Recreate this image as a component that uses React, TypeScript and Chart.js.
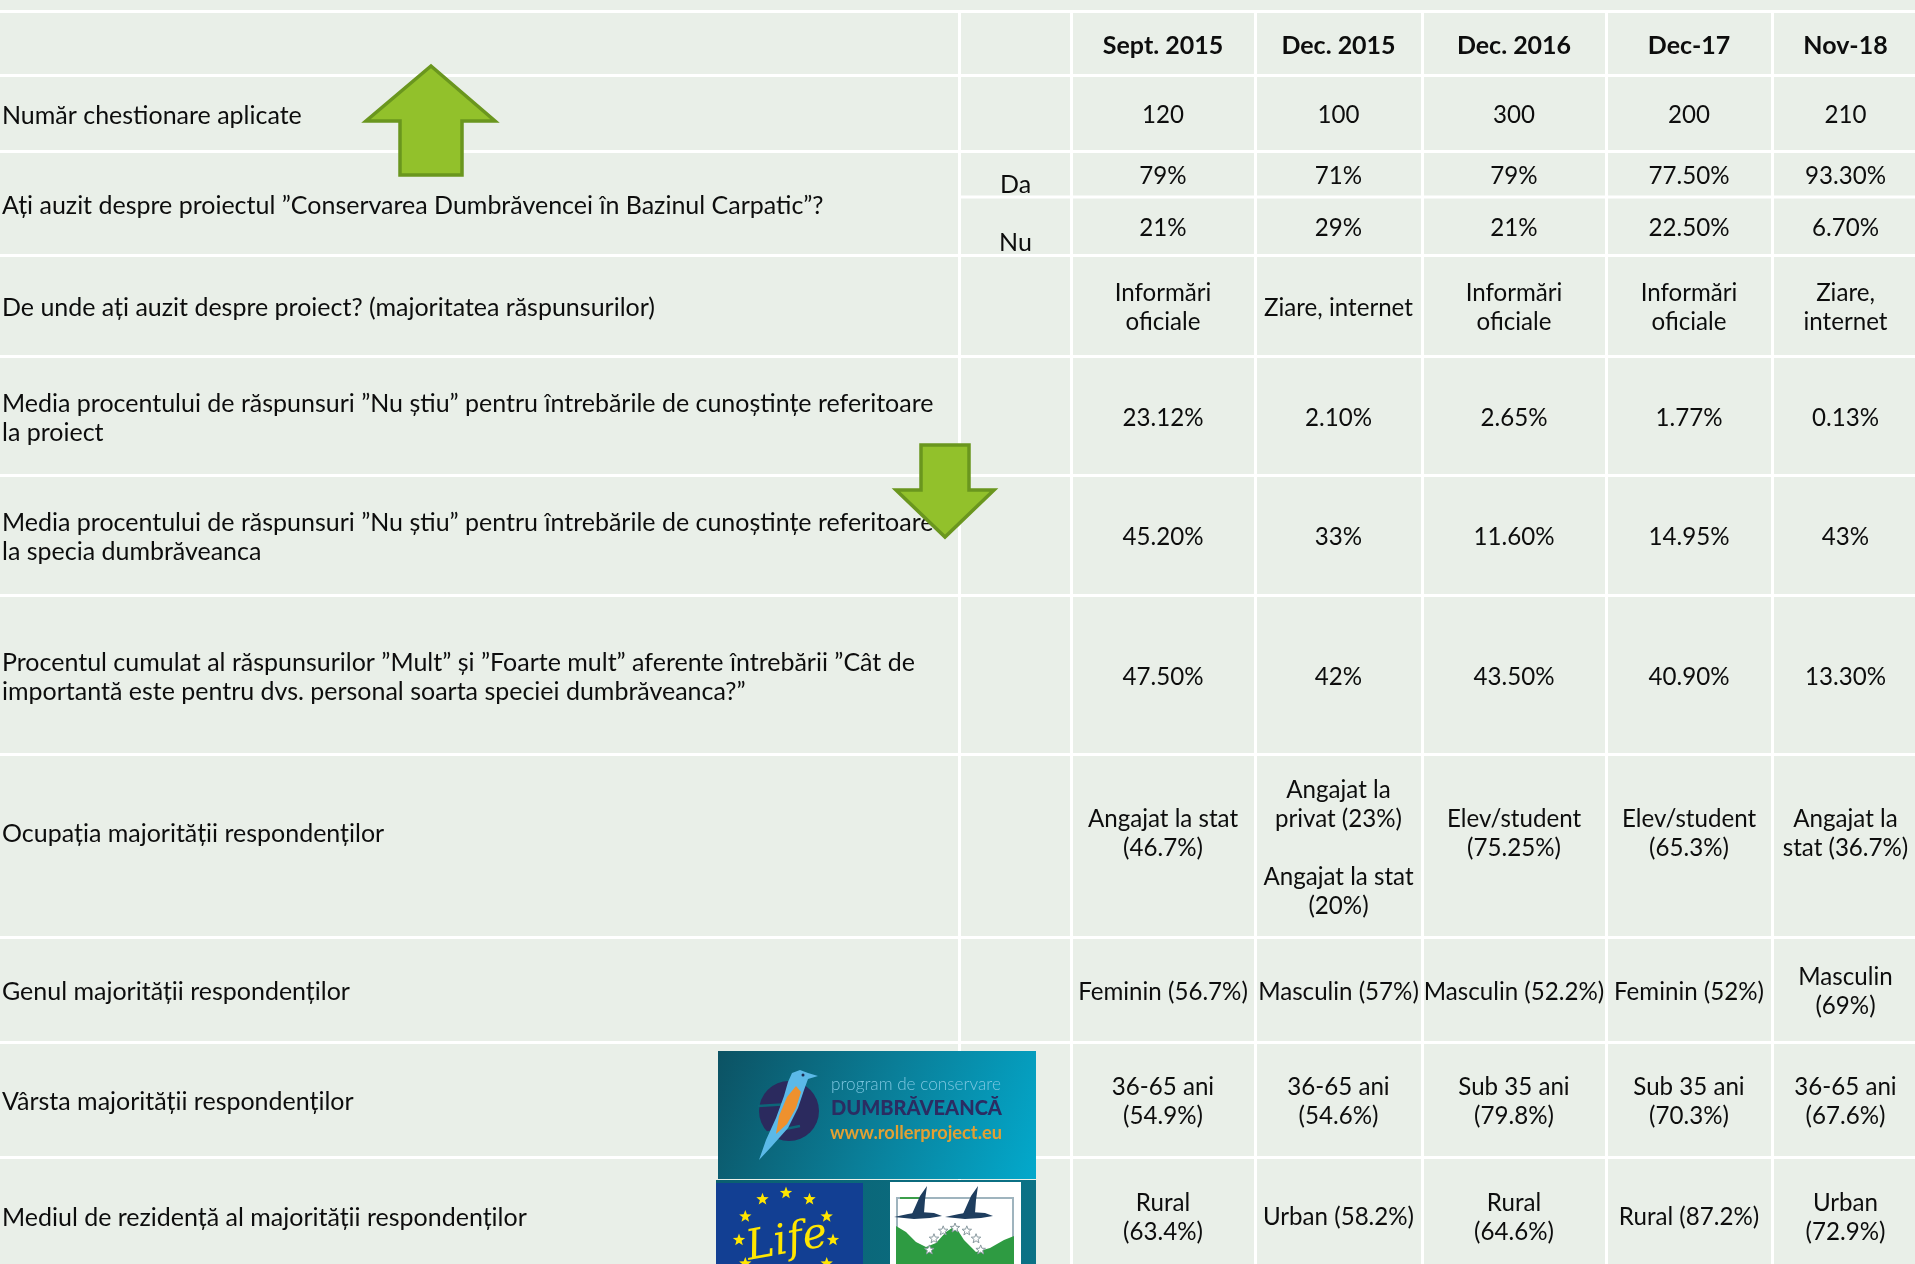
import React, { useEffect, useRef } from 'react';
import { Chart, registerables } from 'chart.js';

Chart.register(...registerables);

const W = 1915;
const H = 1264;

// ---------------- DATA ----------------
const periods = ['Sept. 2015', 'Dec. 2015', 'Dec. 2016', 'Dec-17', 'Nov-18'];

const rowLabels: string[][] = [
  ['Număr chestionare aplicate'],
  ['Ați auzit despre proiectul ”Conservarea Dumbrăvencei în Bazinul Carpatic”?'],
  ['De unde ați auzit despre proiect? (majoritatea răspunsurilor)'],
  ['Media procentului de răspunsuri ”Nu știu” pentru întrebările de cunoștințe referitoare', 'la proiect'],
  ['Media procentului de răspunsuri ”Nu știu” pentru întrebările de cunoștințe referitoare', 'la specia dumbrăveanca'],
  ['Procentul cumulat al răspunsurilor ”Mult” și ”Foarte mult” aferente întrebării ”Cât de', 'importantă este pentru dvs. personal soarta speciei dumbrăveanca?”'],
  ['Ocupația majorității respondenților', ''],
  ['Genul majorității respondenților'],
  ['Vârsta majorității respondenților'],
  ['Mediul de rezidență al majorității respondenților'],
];

const answerLabels = ['Da', 'Nu'];

const questionnaires = ['120', '100', '300', '200', '210'];
const heardYes = ['79%', '71%', '79%', '77.50%', '93.30%'];
const heardNo = ['21%', '29%', '21%', '22.50%', '6.70%'];
const heardSource: string[][] = [
  ['Informări', 'oficiale'],
  ['Ziare, internet'],
  ['Informări', 'oficiale'],
  ['Informări', 'oficiale'],
  ['Ziare,', 'internet'],
];
const dontKnowProject = ['23.12%', '2.10%', '2.65%', '1.77%', '0.13%'];
const dontKnowSpecies = ['45.20%', '33%', '11.60%', '14.95%', '43%'];
const importance = ['47.50%', '42%', '43.50%', '40.90%', '13.30%'];
const occupation: string[][] = [
  ['Angajat la stat', '(46.7%)', ''],
  ['Angajat la', 'privat (23%)', '', 'Angajat la stat', '(20%)'],
  ['Elev/student', '(75.25%)', ''],
  ['Elev/student', '(65.3%)', ''],
  ['Angajat la', 'stat (36.7%)', ''],
];
const gender: string[][] = [
  ['Feminin (56.7%)'],
  ['Masculin (57%)'],
  ['Masculin (52.2%)'],
  ['Feminin (52%)'],
  ['Masculin', '(69%)'],
];
const ageGroup: string[][] = [
  ['36-65 ani', '(54.9%)'],
  ['36-65 ani', '(54.6%)'],
  ['Sub 35 ani', '(79.8%)'],
  ['Sub 35 ani', '(70.3%)'],
  ['36-65 ani', '(67.6%)'],
];
const residence: string[][] = [
  ['Rural', '(63.4%)'],
  ['Urban (58.2%)'],
  ['Rural', '(64.6%)'],
  ['Rural (87.2%)'],
  ['Urban', '(72.9%)'],
];

// ---------------- LAYOUT ----------------
const COL_EDGES = [0, 960, 1071, 1255, 1422, 1606, 1772, 1919];
const ROW_EDGES = [11, 75, 151, 255, 356, 475, 595, 754, 937, 1042, 1157, 1273];
const SPLIT_Y = 197;
const LINE_H = 29;
const TEXT_DY = 2.5;
const VALUE_SCALE = 0.965;
const BG = '#E9EFE8';
const TEXT = '#0d0d0d';
const FONT = 'Lato';

const colCenter = (c: number) => (COL_EDGES[c] + COL_EDGES[c + 1]) / 2;
const rowMid = (r: number) => (ROW_EDGES[r] + ROW_EDGES[r + 1]) / 2;

type Cell = { x: number; y: number; lines: string[]; align: CanvasTextAlign };

const toLines = (v: string | string[]) => (Array.isArray(v) ? v : [v]);

function valueCells(values: (string | string[])[], y: number): Cell[] {
  return values.map((v, i) => ({ x: colCenter(i + 2), y, lines: toLines(v), align: 'center' as CanvasTextAlign }));
}

function textDataset(label: string, data: Cell[], kind: 'header' | 'label' | 'value'): any {
  return { label, data, kind, pointRadius: 0, pointHoverRadius: 0, isText: true };
}

// ---------------- DRAW HELPERS ----------------
type Mapper = (v: number) => number;

function poly(ctx: CanvasRenderingContext2D, X: Mapper, Y: Mapper, pts: number[][], fill: string, stroke?: string, lw = 0) {
  ctx.beginPath();
  pts.forEach(([x, y], i) => (i ? ctx.lineTo(X(x), Y(y)) : ctx.moveTo(X(x), Y(y))));
  ctx.closePath();
  ctx.fillStyle = fill;
  ctx.fill();
  if (stroke) {
    ctx.lineWidth = lw;
    ctx.strokeStyle = stroke;
    ctx.lineJoin = 'miter';
    ctx.stroke();
  }
}

function star(ctx: CanvasRenderingContext2D, cx: number, cy: number, r: number, fill?: string, stroke?: string) {
  ctx.beginPath();
  for (let k = 0; k < 10; k++) {
    const a = -Math.PI / 2 + (k * Math.PI) / 5;
    const rr = k % 2 === 0 ? r : r * 0.42;
    const px = cx + rr * Math.cos(a);
    const py = cy + rr * Math.sin(a);
    k ? ctx.lineTo(px, py) : ctx.moveTo(px, py);
  }
  ctx.closePath();
  if (fill) {
    ctx.fillStyle = fill;
    ctx.fill();
  }
  if (stroke) {
    ctx.strokeStyle = stroke;
    ctx.lineWidth = 1;
    ctx.stroke();
  }
}

function fitText(ctx: CanvasRenderingContext2D, text: string, x: number, y: number, width: number, weight: string, color: string) {
  ctx.font = `${weight} 100px ${FONT}`;
  const w = ctx.measureText(text).width;
  const size = (100 * width) / w;
  ctx.font = `${weight} ${size}px ${FONT}`;
  ctx.fillStyle = color;
  ctx.textAlign = 'left';
  ctx.textBaseline = 'middle';
  ctx.fillText(text, x, y);
}

function drawArrows(ctx: CanvasRenderingContext2D, X: Mapper, Y: Mapper) {
  const fill = '#92C12B';
  const stroke = '#6A961E';
  poly(ctx, X, Y, [[431, 66], [495, 121], [462, 121], [462, 175], [400, 175], [400, 121], [366, 121]], fill, stroke, 3.5);
  poly(ctx, X, Y, [[921, 445], [969, 445], [969, 490], [994, 490], [945, 537], [896, 490], [921, 490]], fill, stroke, 3.5);
}

function drawLogos(ctx: CanvasRenderingContext2D, X: Mapper, Y: Mapper) {
  // upper logo panel
  const g = ctx.createLinearGradient(X(718), Y(1051), X(1036), Y(1179));
  g.addColorStop(0, '#0C5263');
  g.addColorStop(0.5, '#0A7E98');
  g.addColorStop(1, '#03A9CC');
  ctx.fillStyle = g;
  ctx.fillRect(X(718), Y(1051), X(1036) - X(718), Y(1179) - Y(1051));

  // navy blob
  ctx.fillStyle = '#2B2A5E';
  ctx.beginPath();
  ctx.arc(X(789), Y(1111), 30, 0, Math.PI * 2);
  ctx.fill();
  ctx.strokeStyle = '#0C6679';
  ctx.lineWidth = 2.5;
  ctx.beginPath();
  ctx.moveTo(X(758), Y(1106));
  ctx.lineTo(X(790), Y(1104));
  ctx.moveTo(X(765), Y(1133));
  ctx.lineTo(X(800), Y(1126));
  ctx.stroke();

  // bird
  poly(ctx, X, Y, [[792, 1073], [800, 1070], [808, 1073], [818, 1076], [808, 1079], [804, 1090], [798, 1108], [788, 1128], [772, 1146], [759, 1160], [766, 1140], [776, 1118], [784, 1096], [788, 1082]], '#5BB9E8');
  poly(ctx, X, Y, [[796, 1086], [801, 1092], [796, 1108], [787, 1124], [776, 1134], [779, 1116], [787, 1097]], '#EE912E');
  ctx.fillStyle = '#1E2A50';
  ctx.beginPath();
  ctx.arc(X(803), Y(1075), 1.5, 0, Math.PI * 2);
  ctx.fill();

  fitText(ctx, 'program de conservare', X(831), Y(1084), 170, '300', '#7CC6E0');
  fitText(ctx, 'DUMBRĂVEANCĂ', X(831), Y(1109), 171, '900', '#2B2C62');
  fitText(ctx, 'www.rollerproject.eu', X(830), Y(1133), 172, 'bold', '#E2A033');

  // lower band
  const g2 = ctx.createLinearGradient(X(716), 0, X(1036), 0);
  g2.addColorStop(0, '#0A5F70');
  g2.addColorStop(1, '#0B7286');
  ctx.fillStyle = g2;
  ctx.fillRect(X(716), Y(1180), X(1036) - X(716), Y(1264) - Y(1180));

  // LIFE logo
  ctx.fillStyle = '#123F93';
  ctx.fillRect(X(716), Y(1183), X(863) - X(716), Y(1264) - Y(1183));
  ctx.save();
  ctx.beginPath();
  ctx.rect(X(716), Y(1183), X(863) - X(716), Y(1264) - Y(1183));
  ctx.clip();
  for (let k = 0; k < 12; k++) {
    const a = -Math.PI / 2 + (k * Math.PI) / 6;
    star(ctx, X(786) + 47 * Math.cos(a), Y(1240) + 47 * Math.sin(a), 6.5, '#FFE600');
  }
  ctx.fillStyle = '#FFE600';
  ctx.translate(X(787), Y(1242));
  ctx.rotate(-0.18);
  ctx.font = 'italic 42px "DejaVu Serif"';
  ctx.textAlign = 'center';
  ctx.textBaseline = 'middle';
  ctx.fillText('Life', 0, 0);
  ctx.restore();

  // partner logo
  ctx.fillStyle = '#FFFFFF';
  ctx.fillRect(X(890), Y(1182), X(1021) - X(890), Y(1264) - Y(1182));
  ctx.save();
  ctx.beginPath();
  ctx.rect(X(890), Y(1182), X(1021) - X(890), Y(1264) - Y(1182));
  ctx.clip();
  ctx.strokeStyle = '#9FB4BE';
  ctx.lineWidth = 2;
  ctx.strokeRect(X(897), Y(1198), X(1013) - X(897), Y(1270) - Y(1198));
  ctx.strokeStyle = '#3C9E4B';
  ctx.beginPath();
  ctx.moveTo(X(900), Y(1198));
  ctx.lineTo(X(925), Y(1198));
  ctx.stroke();
  poly(ctx, X, Y, [[896, 1226], [906, 1232], [916, 1242], [926, 1247], [936, 1243], [946, 1232], [955, 1226], [964, 1240], [976, 1252], [990, 1248], [1004, 1240], [1014, 1236], [1014, 1264], [896, 1264]], '#2E9B42');
  // geese
  const goose = (ox: number) => {
    poly(ctx, X, Y, [[ox, 1217], [ox + 14, 1214], [ox + 26, 1212], [ox + 40, 1213], [ox + 48, 1216], [ox + 36, 1218], [ox + 20, 1219]], '#1E3D5E');
    poly(ctx, X, Y, [[ox + 18, 1214], [ox + 26, 1196], [ox + 33, 1186], [ox + 31, 1200], [ox + 30, 1213]], '#1E3D5E');
  };
  goose(894);
  goose(945);
  for (let k = 0; k < 7; k++) {
    const a = -Math.PI * 0.95 + (k * Math.PI * 0.9) / 6;
    star(ctx, X(955) + 26 * Math.cos(a), Y(1254) + 26 * Math.sin(a), 5, '#FFFFFF', '#8A9AA0');
  }
  ctx.restore();
}

// ---------------- COMPONENT ----------------
export default function App() {
  const ref = useRef<HTMLCanvasElement | null>(null);

  useEffect(() => {
    const canvas = ref.current;
    if (!canvas) return;

    const probe = document.createElement('canvas').getContext('2d')!;
    probe.font = `100px ${FONT}`;
    const refW = probe.measureText(rowLabels[3][0]).width;
    const fontSize = Math.max(16, Math.min(28, (100 * 932) / refW));

    const labelCells: Cell[] = rowLabels.map((lines, i) => ({ x: 2, y: rowMid(i + 1), lines, align: 'left' as CanvasTextAlign }));
    const answerCells: Cell[] = answerLabels.map((t, i) => ({
      x: colCenter(1),
      y: (i === 0 ? SPLIT_Y : ROW_EDGES[3]) - 14.5,
      lines: [t],
      align: 'center' as CanvasTextAlign,
    }));

    const datasets: any[] = [
      textDataset('Perioada', valueCells(periods, rowMid(0)), 'header'),
      textDataset('Întrebări', labelCells, 'label'),
      textDataset('Răspuns', answerCells, 'label'),
      textDataset('Număr chestionare', valueCells(questionnaires, rowMid(1)), 'value'),
      textDataset('Da', valueCells(heardYes, (ROW_EDGES[2] + SPLIT_Y) / 2), 'value'),
      textDataset('Nu', valueCells(heardNo, (SPLIT_Y + ROW_EDGES[3]) / 2), 'value'),
      textDataset('Sursa', valueCells(heardSource, rowMid(3)), 'value'),
      textDataset('Nu știu proiect', valueCells(dontKnowProject, rowMid(4)), 'value'),
      textDataset('Nu știu specia', valueCells(dontKnowSpecies, rowMid(5)), 'value'),
      textDataset('Importanță', valueCells(importance, rowMid(6)), 'value'),
      textDataset('Ocupația', valueCells(occupation, rowMid(7)), 'value'),
      textDataset('Genul', valueCells(gender, rowMid(8)), 'value'),
      textDataset('Vârsta', valueCells(ageGroup, rowMid(9)), 'value'),
      textDataset('Mediul', valueCells(residence, rowMid(10)), 'value'),
      {
        label: 'split',
        data: [
          { x: COL_EDGES[1], y: SPLIT_Y },
          { x: COL_EDGES[7], y: SPLIT_Y },
        ],
        showLine: true,
        borderColor: '#FFFFFF',
        borderWidth: 3,
        pointRadius: 0,
        pointHoverRadius: 0,
      },
    ];

    const tablePlugin = {
      id: 'tablePlugin',
      beforeDraw(chart: any) {
        const c = chart.ctx as CanvasRenderingContext2D;
        c.save();
        c.fillStyle = BG;
        c.fillRect(0, 0, chart.width, chart.height);
        c.restore();
      },
      afterDatasetsDraw(chart: any) {
        const c = chart.ctx as CanvasRenderingContext2D;
        c.save();
        c.fillStyle = TEXT;
        c.textBaseline = 'middle';
        chart.data.datasets.forEach((ds: any, i: number) => {
          if (!ds.isText) return;
          const meta = chart.getDatasetMeta(i);
          const size = ds.kind === 'value' ? fontSize * VALUE_SCALE : fontSize;
          c.font = `${ds.kind === 'header' ? 'bold ' : ''}${size}px ${FONT}`;
          meta.data.forEach((el: any, j: number) => {
            const cell = ds.data[j] as Cell;
            c.textAlign = cell.align;
            const n = cell.lines.length;
            cell.lines.forEach((t, k) => {
              if (t) c.fillText(t, el.x, el.y + TEXT_DY + (k - (n - 1) / 2) * LINE_H);
            });
          });
        });
        c.restore();
      },
      afterDraw(chart: any) {
        const c = chart.ctx as CanvasRenderingContext2D;
        const xs = chart.scales.x;
        const ys = chart.scales.y;
        const X = (v: number) => xs.getPixelForValue(v);
        const Y = (v: number) => ys.getPixelForValue(v);
        c.save();
        drawLogos(c, X, Y);
        drawArrows(c, X, Y);
        c.restore();
      },
    };

    const chart = new Chart(canvas, {
      type: 'scatter',
      data: { datasets },
      options: {
        animation: false,
        responsive: false,
        maintainAspectRatio: false,
        events: [],
        layout: { padding: { top: ROW_EDGES[0], left: 0, right: 0, bottom: 0 } },
        plugins: { legend: { display: false }, tooltip: { enabled: false } },
        scales: {
          x: {
            type: 'linear',
            min: 0,
            max: W,
            afterBuildTicks: (scale: any) => {
              scale.ticks = COL_EDGES.slice(1, 7).map((v) => ({ value: v }));
            },
            grid: { color: '#FFFFFF', lineWidth: 3, drawTicks: false },
            border: { display: false },
            ticks: { display: false },
          },
          y: {
            type: 'linear',
            min: ROW_EDGES[0],
            max: H,
            reverse: true,
            afterBuildTicks: (scale: any) => {
              scale.ticks = ROW_EDGES.slice(0, 11).map((v) => ({ value: v }));
            },
            grid: { color: '#FFFFFF', lineWidth: 3, drawTicks: false },
            border: { display: false },
            ticks: { display: false },
          },
        },
      },
      plugins: [tablePlugin],
    } as any);

    return () => chart.destroy();
  }, []);

  return (
    <div style={{ position: 'fixed', left: 0, top: 0, width: W, height: H, background: BG }}>
      <canvas ref={ref} width={W} height={H} style={{ display: 'block', width: W, height: H }} />
    </div>
  );
}
